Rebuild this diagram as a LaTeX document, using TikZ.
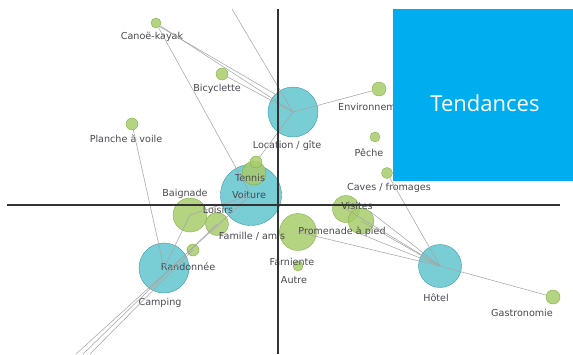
\documentclass[tikz,border=0pt]{standalone}
\usepackage{fontspec}
\setmainfont{DejaVu Sans}
\newfontfamily\boxfont{Open Sans}
\definecolor{bubblecyan}{RGB}{98,196,206}
\definecolor{cyanedge}{RGB}{58,154,166}
\definecolor{bubblegreen}{RGB}{168,204,108}
\definecolor{greenedge}{RGB}{132,176,72}
\definecolor{tendblue}{RGB}{0,173,239}
\definecolor{labelgray}{RGB}{72,72,80}
\usetikzlibrary{positioning}

\begin{document}
\begin{tikzpicture}[x=1pt, y=-1pt,
    cyanball/.style={circle, draw=cyanedge, fill=bubblecyan, fill opacity=0.85, inner sep=0pt},
    greenball/.style={circle, draw=greenedge, fill=bubblegreen, fill opacity=0.85, inner sep=0pt},
    lbl/.style={font=\fontsize{9.6}{11}\selectfont, text=labelgray, inner sep=1pt},
    link/.style={gray!70, line width=0.55pt},
    axis/.style={black!80, line width=1.1pt}]
    \useasboundingbox (0,0) rectangle (573,354);
    % bubbles
    \foreach \n/\x/\y/\d in {loc/293/112/50, voit/251/195/61, rand/164/268/50, hotel/440/266/43} {
        \node[cyanball, minimum size=\d pt] (\n) at (\x,\y) {};
    }
    \foreach \n/\x/\y/\d in {canoe/156/23/10, bicy/222/74/12, planche/132/124/12, env/379/89/14,
                             peche/375/137/10, caves/387/173/11, tennis/254/173/24, tennistop/256/162/12,
                             baign/190/215/34, loisirs/217/224/23, famille/193/250/12, prom/298/232/37,
                             vis/346/209/27, visbis/361/221/26, farn/298/266/10, gastro/553/297/14} {
        \node[greenball, minimum size=\d pt] (\n) at (\x,\y) {};
    }
    % labels
    \foreach \n/\x/\y/\t in {canoe/152/37/{Canoë-kayak}, bicy/217/89/Bicyclette, planche/126/139/{Planche à voile},
                             loc/287/146/{Location / gîte}, peche/369/153/Pêche, caves/389/188/{Caves / fromages},
                             tennis/250/178/Tennis, voit/249/195/Voiture, baign/185/194/Baignade,
                             loisirs/218/210/Loisirs, famille/252/236/{Famille / amis}, rand/188/267/Randonnée,
                             camp/160/303/Camping, prom/342/232/{Promenade à pied}, vis/357/206/Visites,
                             farn/292/262/Farniente, autre/294/280/Autre, hotel/436/298/Hôtel,
                             gastro/522/313/Gastronomie} {
        \node[lbl] (l-\n) at (\x,\y) {\t};
    }
    \node[lbl, anchor=west] (l-env) at (337,107) {Environnement};
    % links
    \coordinate (topend) at (232,9);
    \coordinate (sw1) at (76,354);
    \coordinate (sw2) at (83,354);
    \coordinate (sw3) at (90,354);
    \draw[link] (topend) -- (loc.center);
    \draw[link] (canoe) -- (loc.center);
    \draw[link] (canoe.south east) -- (loc.north west);
    \draw[link] (canoe) -- (voit.center);
    \draw[link] (bicy) -- (loc.center);
    \draw[link] (planche) -- (rand.center);
    \draw[link] (loc.center) -- (tennistop);
    \draw[link] (loc.center) -- (env);
    \draw[link] (voit.center) -- (sw1);
    \draw[link] (loisirs.center) -- (sw2);
    \draw[link] (famille.center) -- (sw3);
    \draw[link] (rand.center) -- (baign.center) -- (voit.center);
    \draw[link] (caves) -- (hotel.center);
    \foreach \s in {vis.center, visbis.center, visbis.north east, visbis.south, prom.center} {
        \draw[link] (\s) -- (hotel.center);
    }
    \draw[link] (hotel.center) -- (gastro);
    % axes
    \coordinate (xa) at (7,205);
    \coordinate (xb) at (560,205);
    \coordinate (ya) at (278,9);
    \coordinate (yb) at (278,354);
    \draw[axis] (xa) -- (xb);
    \draw[axis] (ya) -- (yb);
    % title box
    \fill[tendblue] (393,9) rectangle (573,181);
    \node[text=white, font=\boxfont\fontsize{22}{26}\selectfont] (tend) at (485,103) {Tendances};
\end{tikzpicture}
\end{document}
